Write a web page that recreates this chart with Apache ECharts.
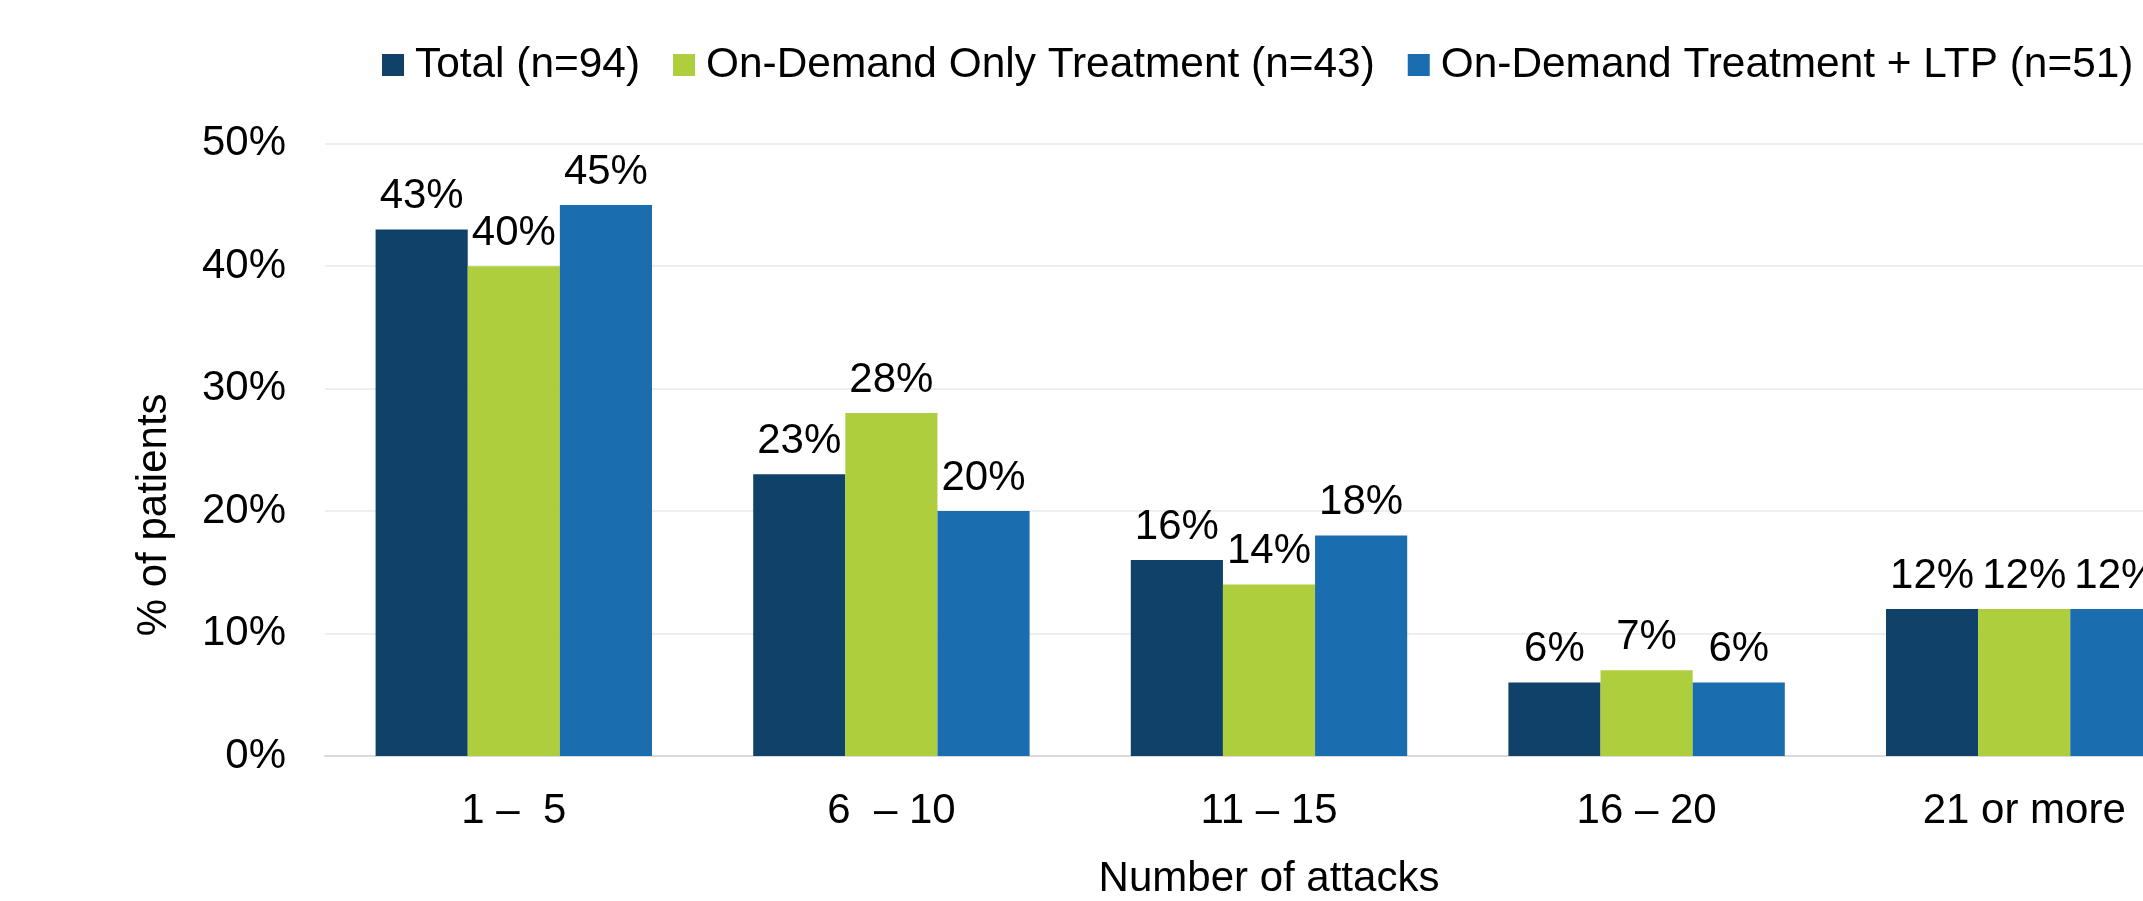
<!DOCTYPE html>
<html>
<head>
<meta charset="utf-8">
<script src="https://cdn.jsdelivr.net/npm/echarts@6/dist/echarts.min.js"></script>
<style>
html,body{margin:0;padding:0;background:#fff;}
#chart{width:2143px;height:901px;}
</style>
</head>
<body>
<div id="chart"></div>
<script>
var categories = ['1 \u2013  5', '6  \u2013 10', '11 \u2013 15', '16 \u2013 20', '21 or more'];
var seriesNames = ['Total (n=94)', 'On-Demand Only Treatment (n=43)', 'On-Demand Treatment + LTP (n=51)'];
var totalValues = [43, 23, 16, 6, 12];
var onDemandOnlyValues = [40, 28, 14, 7, 12];
var onDemandLtpValues = [45, 20, 18, 6, 12];
var yTicks = [0, 10, 20, 30, 40, 50];
var colors = ['#0F4169', '#AFCE3D', '#1A6DAF'];

var FONT = '"Liberation Sans", Arial, sans-serif';
var chart = echarts.init(document.getElementById('chart'), null, {renderer: 'canvas'});

function makeSeries(name, data, color) {
  return {
    name: name,
    type: 'bar',
    data: data,
    barWidth: '24.4%',
    barGap: '0%',
    itemStyle: {color: color},
    label: {
      show: true,
      position: 'top',
      distance: 12,
      formatter: '{c}%',
      color: '#000',
      fontFamily: FONT,
      fontSize: 42
    },
    emphasis: {disabled: true}
  };
}

chart.setOption({
  animation: false,
  color: colors,
  textStyle: {fontFamily: FONT},
  legend: {
    top: 39,
    left: 377,
    width: 1900,
    itemWidth: 22,
    itemHeight: 22,
    itemGap: 33,
    icon: 'rect',
    textStyle: {fontFamily: FONT, fontSize: 42.4, color: '#000', padding: [0, 0, 0, 6]},
    data: seriesNames
  },
  grid: {left: 325, width: 1888, top: 143.7, bottom: 145, containLabel: false, outerBoundsMode: 'none'},
  xAxis: {
    type: 'category',
    data: categories,
    name: 'Number of attacks',
    nameLocation: 'middle',
    nameGap: 102,
    nameTextStyle: {fontFamily: FONT, fontSize: 42, color: '#000'},
    axisLine: {lineStyle: {color: '#D9D9D9', width: 2}},
    axisTick: {show: false},
    axisLabel: {fontFamily: FONT, fontSize: 42, color: '#000', margin: 34, interval: 0}
  },
  yAxis: {
    type: 'value',
    min: yTicks[0],
    max: yTicks[yTicks.length - 1],
    interval: 10,
    name: '% of patients',
    nameLocation: 'middle',
    nameGap: 150,
    nameRotate: 90,
    nameTextStyle: {fontFamily: FONT, fontSize: 42, color: '#000', padding: [0, 130, 0, 0]},
    axisLine: {show: false},
    axisTick: {show: false},
    splitLine: {lineStyle: {color: '#EEEEEE', width: 2}},
    axisLabel: {fontFamily: FONT, fontSize: 42, color: '#000', margin: 39, formatter: '{value}%'}
  },
  series: [
    makeSeries(seriesNames[0], totalValues, colors[0]),
    makeSeries(seriesNames[1], onDemandOnlyValues, colors[1]),
    makeSeries(seriesNames[2], onDemandLtpValues, colors[2])
  ]
});
</script>
</body>
</html>
